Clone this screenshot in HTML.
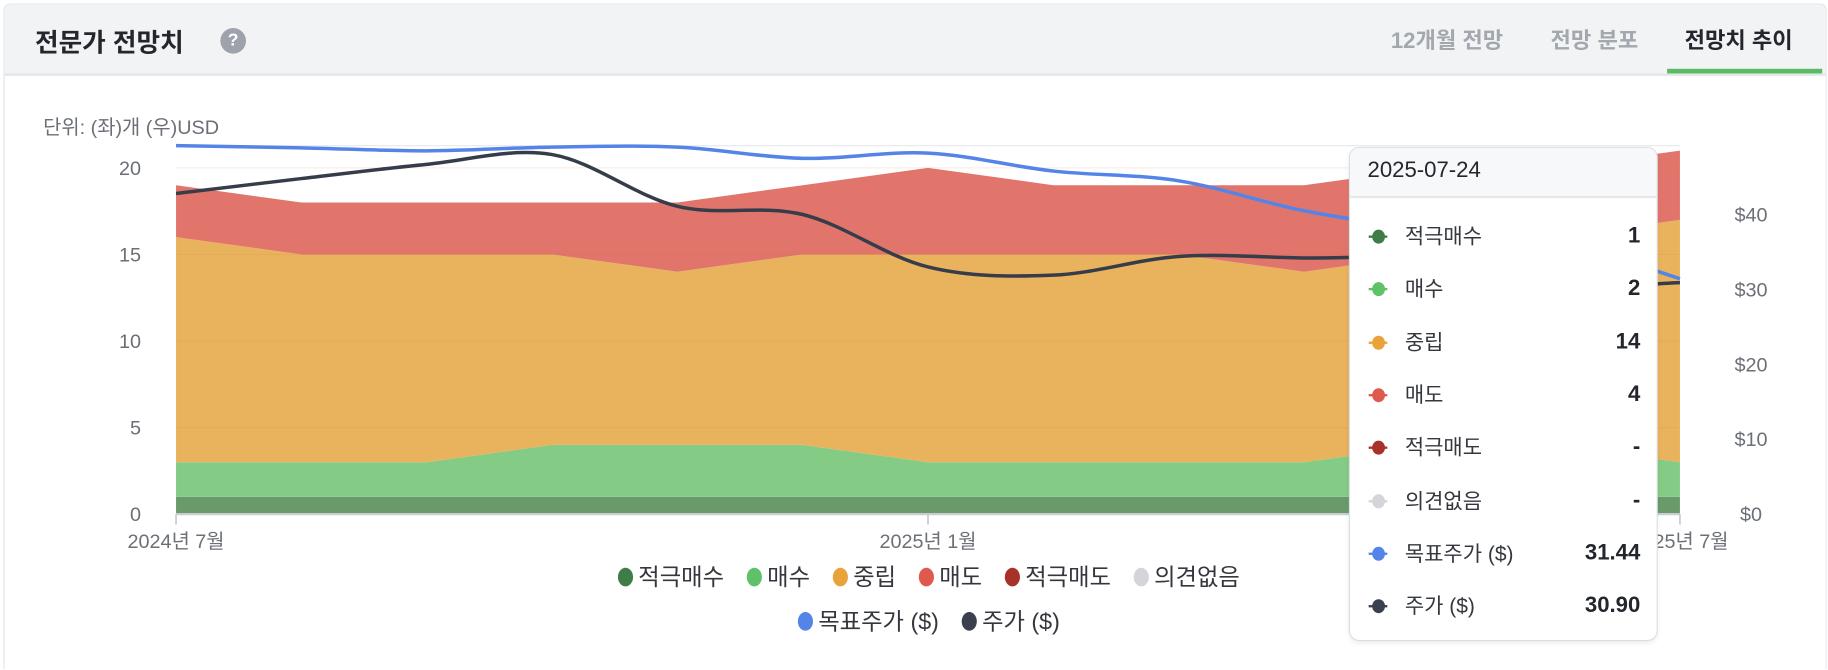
<!DOCTYPE html>
<html lang="ko"><head><meta charset="utf-8">
<style>
html,body{margin:0;padding:0;width:1828px;height:670px;overflow:hidden;background:#fff;font-family:"Liberation Sans","Noto Sans CJK KR",sans-serif;}
#wrap{position:absolute;left:0;top:0;width:1568px;height:574px;transform:scale(1.16582);transform-origin:0 0;overflow:hidden;}
.card{position:absolute;left:3px;top:3px;width:1562px;height:571px;border:1px solid #e3e5e8;border-bottom:none;border-radius:6px 6px 0 0;background:#fff;overflow:hidden;}
.hdr{position:absolute;left:0;top:0;width:100%;height:59px;background:#f2f3f5;border-bottom:2px solid #e3e5e8;}
.title{position:absolute;left:26px;top:15px;font-size:22px;font-weight:bold;color:#23262c;}
.q{position:absolute;left:185px;top:20px;width:22px;height:22px;border-radius:50%;background:#9ea2aa;color:#fff;font-size:15px;font-weight:bold;text-align:center;line-height:22px;}
.tab{position:absolute;top:16px;font-size:19px;font-weight:bold;color:#a3a7ae;}
.tab.on{color:#23262c;}
.ul{position:absolute;left:1426px;top:55px;width:133px;height:4px;background:#5cbb62;}
.unit{position:absolute;left:37px;top:95px;font-size:17px;color:#6b6f76;}
.tt{position:absolute;left:1157px;top:126px;width:263px;height:422px;border:1px solid #dcdfe3;border-radius:9px;background:#fff;box-shadow:0 2px 4px rgba(0,0,0,0.06);overflow:hidden;}
.tth{height:43px;background:#f7f8fa;border-bottom:2px solid #e6e8eb;font-size:19px;color:#23262c;padding:9px 0 0 15px;box-sizing:border-box;}
.row{position:absolute;left:0;width:263px;height:26px;line-height:26px;font-size:18px;color:#34373d;}
.row .mk{position:absolute;left:16px;top:12px;width:16px;height:2px;}
.row .mk i{position:absolute;left:3px;top:-5px;width:11px;height:12px;border-radius:50%;}
.row .lb{position:absolute;left:47px;top:0;}
.row .v{position:absolute;right:14px;top:0;font-weight:bold;font-size:19px;color:#23262c;}
</style></head><body>
<div id="wrap">
<div class="card">
 <div class="hdr">
  <div class="title">전문가 전망치</div>
  <div class="q">?</div>
  <div class="tab" style="left:1189px">12개월 전망</div>
  <div class="tab" style="left:1326px">전망 분포</div>
  <div class="tab on" style="left:1441px">전망치 추이</div>
  <div class="ul"></div>
 </div>
</div>
<div class="unit">단위: (좌)개 (우)USD</div>
<svg id="chart" width="1568" height="574" style="position:absolute;left:0;top:0"></svg>
<div class="tt">
 <div class="tth">2025-07-24</div>
 <div id="rows"></div>
</div>
</div>
<script>
const months = ['2024-07','2024-08','2024-09','2024-10','2024-11','2024-12','2025-01','2025-02','2025-03','2025-04','2025-05','2025-06','2025-07'];
const strongBuy = [1,1,1,1,1,1,1,1,1,1,1,1,1];
const buy = [2,2,2,3,3,3,2,2,2,2,3,3,2];
const hold = [13,12,12,11,10,11,12,12,12,11,11,12,14];
const sell = [3,3,3,3,4,4,5,4,4,5,5,4,4];
const targetPrice = [49.2,48.9,48.5,49.0,49.0,47.5,48.2,45.8,44.5,40.5,38.0,36.5,31.44];
const price = [42.8,44.8,46.7,48.0,41.1,40.0,33.0,31.9,34.4,34.2,34.0,30.5,30.90];
const leftTicks = [0,5,10,15,20];
const rightTicks = [0,10,20,30,40];
const xLabels = [['2024년 7월',0],['2025년 1월',6],['2025년 7월',12]];
const tipRows = [['적극매수','1','#3e7d45'],['매수','2','#5fc168'],['중립','14','#e8a33a'],['매도','4','#de5a4f'],['적극매도','-','#a8322a'],['의견없음','-','#d3d5d9'],['목표주가 ($)','31.44','#5584e8'],['주가 ($)','30.90','#3a404d']];

const NS='http://www.w3.org/2000/svg';
const svg=document.getElementById('chart');
const X0=151,X1=1441,Y0=441;
const x=i=>X0+(X1-X0)*i/(months.length-1);
const yL=v=>Y0-v*14.85;
const yR=v=>Y0-v*6.425;
function el(t,a,p){const e=document.createElementNS(NS,t);for(const k in a)e.setAttribute(k,a[k]);(p||svg).appendChild(e);return e;}
const series=[[strongBuy,'#6a9a6a','area-strong-buy'],[buy,'#84cb86','area-buy'],[hold,'#e9b25d','area-hold'],[sell,'#e1756c','area-sell']];
let base=months.map(()=>0);
series.forEach(([vals,col,name])=>{
 const top=base.map((b,i)=>b+vals[i]);
 let d='M'+top.map((v,i)=>x(i)+','+yL(v)).join('L');
 for(let i=months.length-1;i>=0;i--)d+='L'+x(i)+','+yL(base[i]);
 const p=el('path',{d:d+'Z',fill:col});
 
 
 base=top;
});
leftTicks.forEach(v=>{
 if(v>0){const g=el('line',{x1:X0,x2:X1,y1:yL(v),y2:yL(v),stroke:'rgba(200,120,60,0.12)','stroke-width':1});
 }
 const t=el('text',{x:121,y:yL(v)+6,'text-anchor':'end','font-size':17,fill:'#6b6f76'});t.textContent=v;
 
});
el('line',{x1:X0,x2:X1,y1:125,y2:125,stroke:'#e6e8eb'});
rightTicks.forEach(v=>{
 const t=el('text',{x:1502,y:yR(v)+6,'text-anchor':'middle','font-size':17,fill:'#6b6f76'});t.textContent='$'+v;
 
});
const ax=el('line',{x1:X0,x2:X1,y1:Y0,y2:Y0,stroke:'#c9ccd1','stroke-width':2});

xLabels.forEach(([l,i])=>{
 el('line',{x1:x(i),x2:x(i),y1:Y0,y2:Y0+9,stroke:'#c9ccd1','stroke-width':1.5});
 const t=el('text',{x:x(i),y:470,'text-anchor':'middle','font-size':17,fill:'#6b6f76'});t.textContent=l;
 
});
function smooth(vals){const pts=vals.map((v,i)=>[x(i),yR(v)]);let d='M'+pts[0];
 for(let i=0;i<pts.length-1;i++){const p0=pts[i-1]||pts[i],p1=pts[i],p2=pts[i+1],p3=pts[i+2]||p2;
  const c1=[p1[0]+(p2[0]-p0[0])/6,p1[1]+(p2[1]-p0[1])/6],c2=[p2[0]-(p3[0]-p1[0])/6,p2[1]-(p3[1]-p1[1])/6];
  d+='C'+c1+' '+c2+' '+p2;}return d;}
const tl=el('path',{d:smooth(targetPrice),fill:'none',stroke:'#5584e8','stroke-width':3});

const pl=el('path',{d:smooth(price),fill:'none',stroke:'#363c4a','stroke-width':3});

function legend(items,y){
 const gs=items.map(([l,c])=>{
  const g=el('g',{});
  
  
  el('ellipse',{cx:6,cy:y-6,rx:6.5,ry:8,fill:c},g);
  const t=el('text',{x:17,y:y+1,'font-size':20,fill:'#34373d'},g);t.textContent=l;
  return [g,t.getComputedTextLength()+17+20];});
 const w=gs.reduce((a,b)=>a+b[1],0)-20;let cx=797-w/2;
 gs.forEach(([g,wd])=>{g.setAttribute('transform','translate('+cx+',0)');cx+=wd;});}
legend(tipRows.slice(0,6).map(r=>[r[0],r[2]]),501);
legend(tipRows.slice(6).map(r=>[r[0],r[2]]),539);
const rows=document.getElementById('rows');
tipRows.forEach(([l,v,c],k)=>{
 const r=document.createElement('div');r.className='row';r.style.top=(63+k*45.3)+'px';
 
 
 r.innerHTML='<span class="mk" style="background:'+c+'"><i style="background:'+c+'"></i></span><span class="lb">'+l+'</span><span class="v">'+v+'</span>';
 rows.appendChild(r);
});
</script>
</body></html>
